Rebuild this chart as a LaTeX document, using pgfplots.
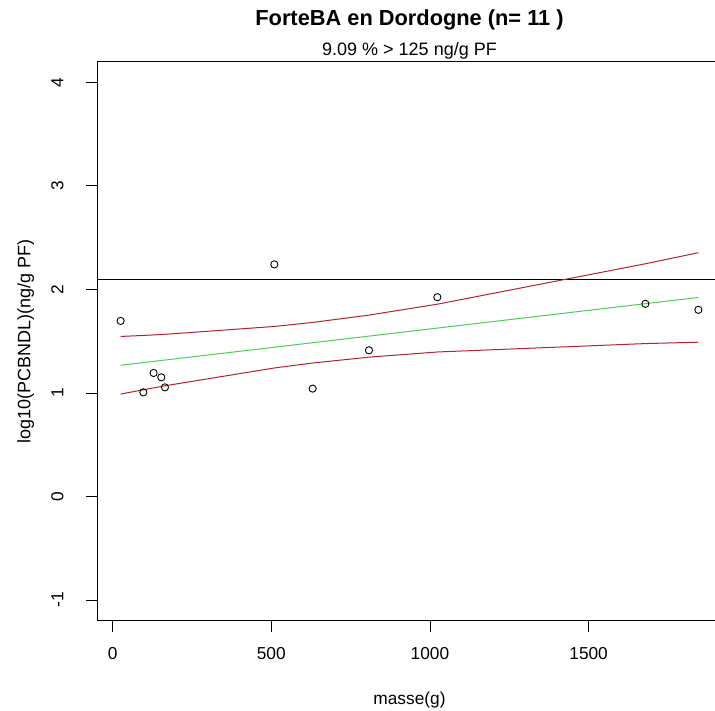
\documentclass[border=0pt]{standalone}
\usepackage{pgfplots}
\pgfplotsset{compat=1.18}
\usepackage{fontspec}
\setmainfont{Liberation Sans}

\definecolor{bandred}{RGB}{178,34,48}
\definecolor{fitgreen}{RGB}{80,205,80}

\newcommand{\labelfont}{\fontsize{17.3}{20}\selectfont}

\begin{document}
\begin{tikzpicture}[x=1pt,y=1pt]
\begin{axis}[
  at={(0,0)}, anchor=south west,
  scale only axis, width=624pt, height=559pt,
  xmin=-47.6, xmax=1918.7, ymin=-1.2, ymax=4.2,
  xtick={0,500,1000,1500}, ytick={-1,0,1,2,3,4},
  tick align=outside, major tick length=11pt,
  xtick pos=bottom, ytick pos=left,
  tick style={black, line width=0.9pt},
  axis line style={black, line width=1pt},
  font=\labelfont,
  /pgf/number format/assume math mode=true,
  /pgf/number format/1000 sep={},
  xticklabel style={anchor=north, inner sep=0pt, yshift=-16pt},
  yticklabel style={xshift=-23pt, rotate=90, anchor=base, inner sep=0pt},
  clip=true,
]
% threshold log10(125)
\addplot[black, line width=1.1pt] coordinates {(-47.6,2.097) (1918.7,2.097)};
% regression line
\addplot[fitgreen, line width=1pt] coordinates {(25.2,1.2675) (1845.9,1.9226)};
% confidence band, upper and lower
\addplot[bandred, line width=1pt] coordinates {
  (25.2,1.5458) (96.8,1.5557) (129.2,1.5606) (153.5,1.5644) (164.8,1.5663)
  (509.6,1.6423) (630.3,1.6812) (807.8,1.7520) (1023.3,1.8574)
  (1678.8,2.2478) (1845.9,2.3549)};
\addplot[bandred, line width=1pt] coordinates {
  (25.2,0.9892) (96.8,1.0307) (129.2,1.0492) (153.5,1.0628) (164.8,1.0691)
  (509.6,1.2413) (630.3,1.2892) (807.8,1.3460) (1023.3,1.3958)
  (1678.8,1.4770) (1845.9,1.4903)};
% observations
\addplot[only marks, mark=o, mark size=3.6pt, black, mark options={line width=0.9pt}]
  coordinates {
  (25.2,1.696) (96.8,1.006) (129.2,1.193) (153.5,1.151) (164.8,1.054)
  (509.6,2.242) (630.3,1.042) (807.8,1.412) (1023.3,1.925)
  (1678.8,1.861) (1845.9,1.803)};
\end{axis}
\node[anchor=base, font=\bfseries\fontsize{21.8}{25}\selectfont] at (312,595) {ForteBA en Dordogne (n= 11 )};
\node[anchor=base, font=\fontsize{18}{21}\selectfont] at (312,564.7) {9.09 \% > 125 ng/g PF};
\node[anchor=base, font=\labelfont] at (312,-84) {masse(g)};
\node[anchor=base, rotate=90, font=\fontsize{18}{21}\selectfont] at (-67,279.5) {log10(PCBNDL)(ng/g PF)};
\pgfresetboundingbox
\path[use as bounding box] (-97.5,-90.3) rectangle (617.5,620.7);
\end{tikzpicture}
\end{document}
